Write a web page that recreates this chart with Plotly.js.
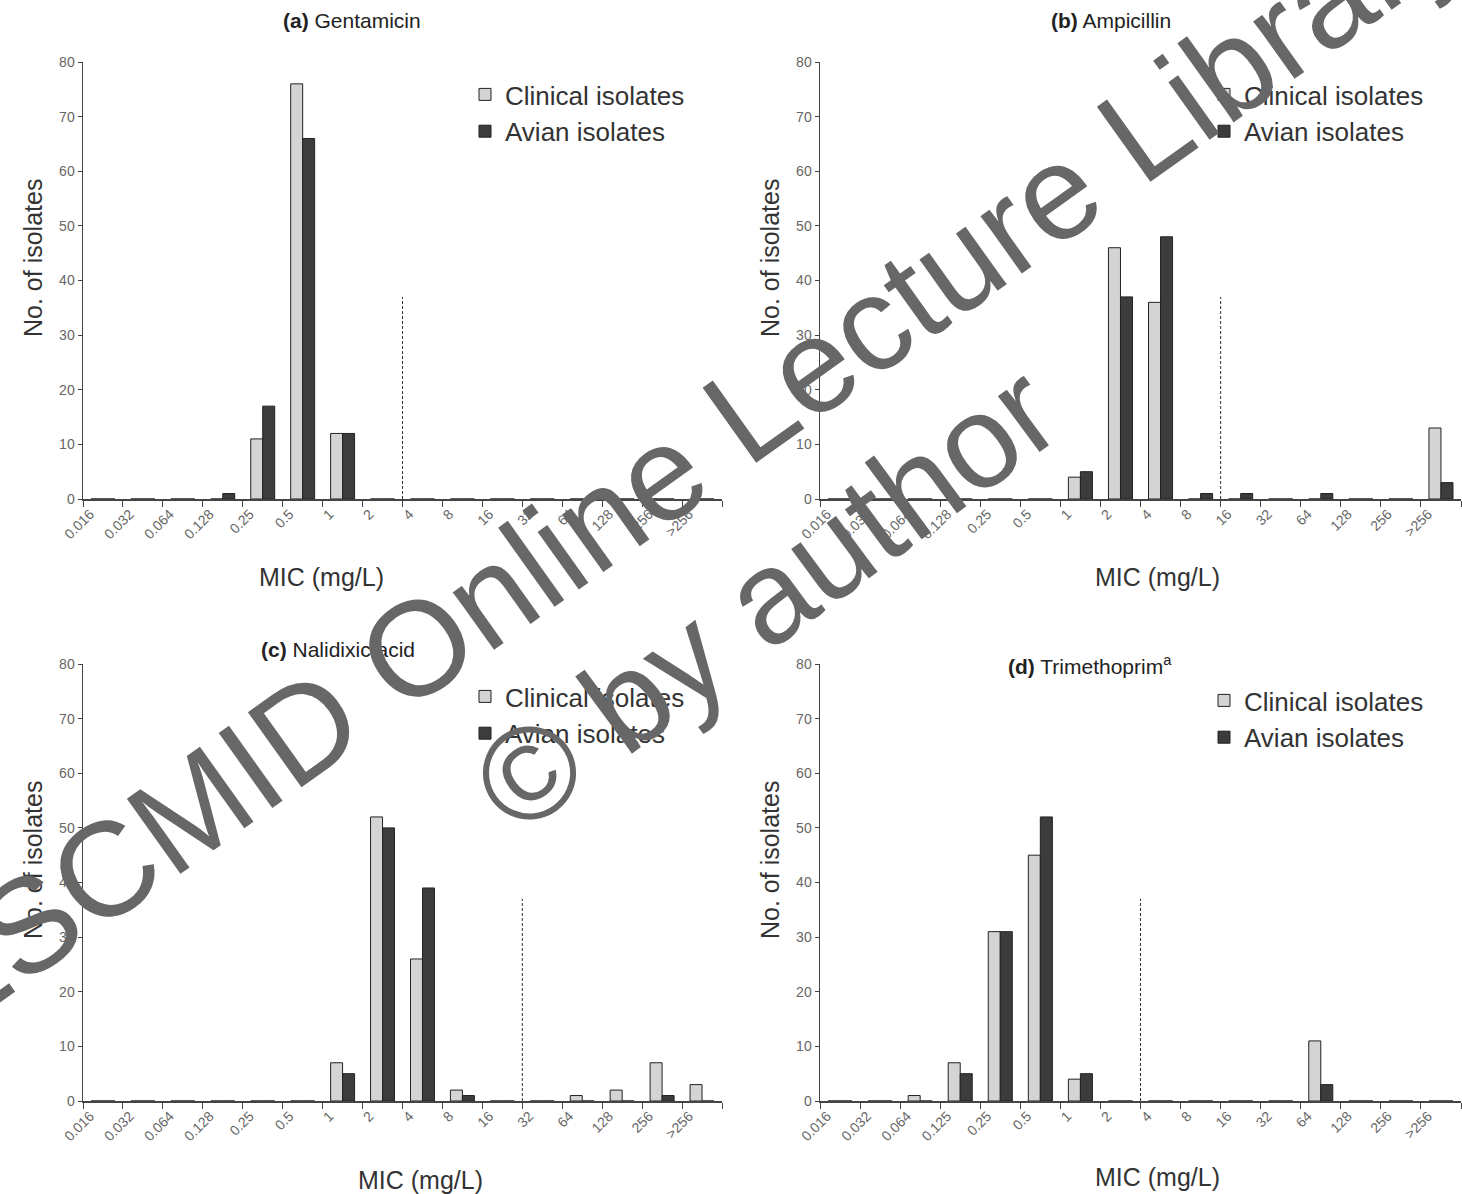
<!DOCTYPE html>
<html>
<head>
<meta charset="utf-8">
<script src="https://cdn.plot.ly/plotly-3.0.1.min.js"></script>
<style>
html,body{margin:0;padding:0;background:#fff;}
#chart{width:1462px;height:1194px;}
</style>
</head>
<body>
<div id="chart"></div>
<script>
// ---- Data ----
const micLabels = ["0.016","0.032","0.064","0.128","0.25","0.5","1","2","4","8","16","32","64","128","256",">256"];
const micLabelsTmp = ["0.016","0.032","0.064","0.125","0.25","0.5","1","2","4","8","16","32","64","128","256",">256"];

const gentamicinClinical = [0,0,0,0,11,76,12,0,0,0,0,0,0,0,0,0];
const gentamicinAvian    = [0,0,0,1,17,66,12,0,0,0,0,0,0,0,0,0];

const ampicillinClinical = [0,0,0,0,0,0,4,46,36,0,0,0,0,0,0,13];
const ampicillinAvian    = [0,0,0,0,0,0,5,37,48,1,1,0,1,0,0,3];

const nalidixicClinical  = [0,0,0,0,0,0,7,52,26,2,0,0,1,2,7,3];
const nalidixicAvian     = [0,0,0,0,0,0,5,50,39,1,0,0,0,0,1,0];

const trimethoprimClinical = [0,0,1,7,31,45,4,0,0,0,0,0,11,0,0,0];
const trimethoprimAvian    = [0,0,0,5,31,52,5,0,0,0,0,0,3,0,0,0];

// last susceptible MIC (breakpoint line drawn just after it)
const breakpointAfter = ["2","8","16","2"];
const breakpointLineTop = 37;

const panelTitles = ["<b>(a)</b> Gentamicin","<b>(b)</b> Ampicillin","<b>(c)</b> Nalidixic acid","<b>(d)</b> Trimethoprim<sup>a</sup>"];
const seriesNames = ["Clinical isolates","Avian isolates"];

// ---- Layout helpers ----
const W = 1462, H = 1194;
const px = v => v / W;
const py = v => 1 - v / H;

const panels = [
  {labels: micLabels,    clin: gentamicinClinical,   avi: gentamicinAvian,   x0: 83,  x1: 722,  yTop: 62,  yBot: 499},
  {labels: micLabels,    clin: ampicillinClinical,   avi: ampicillinAvian,   x0: 820, x1: 1461, yTop: 62,  yBot: 499},
  {labels: micLabels,    clin: nalidixicClinical,    avi: nalidixicAvian,    x0: 83,  x1: 722,  yTop: 664, yBot: 1101},
  {labels: micLabelsTmp, clin: trimethoprimClinical, avi: trimethoprimAvian, x0: 820, x1: 1461, yTop: 664, yBot: 1101}
];

const FONT = "Liberation Sans, Arial, Helvetica, sans-serif";
const traces = [];
const layout = {
  width: W, height: H,
  margin: {l:0, r:0, t:0, b:0},
  paper_bgcolor: "#fff", plot_bgcolor: "#fff",
  barmode: "group", bargap: 0.4, bargroupgap: 0,
  font: {family: FONT, color: "#333"},
  annotations: [], shapes: []
};

const legendPos = [
  {x: 465, y: 71}, {x: 1204, y: 71}, {x: 465, y: 673}, {x: 1204, y: 677}
];
const titlePos = [
  {x: 352, y: 20}, {x: 1111, y: 20}, {x: 338, y: 650}, {x: 1090, y: 665}
];
const yTitlePos = [
  {x: 33, y: 258}, {x: 770, y: 258}, {x: 33, y: 860}, {x: 770, y: 860}
];
const xTitlePos = [
  {x: 321, y: 577}, {x: 1157, y: 577}, {x: 420, y: 1180}, {x: 1157, y: 1177}
];

panels.forEach((p, i) => {
  const n = i + 1;
  const xa = n === 1 ? "x" : "x" + n;
  const ya = n === 1 ? "y" : "y" + n;
  const lg = n === 1 ? "legend" : "legend" + n;
  traces.push({
    type: "bar", x: p.labels, y: p.clin, name: seriesNames[0],
    xaxis: xa, yaxis: ya, legend: lg,
    marker: {color: "#d4d4d4", line: {color: "#222", width: 1}},
    hoverinfo: "x+y+name"
  });
  traces.push({
    type: "bar", x: p.labels, y: p.avi, name: seriesNames[1],
    xaxis: xa, yaxis: ya, legend: lg,
    marker: {color: "#3c3c3c", line: {color: "#222", width: 1}},
    hoverinfo: "x+y+name"
  });
  const xKey = n === 1 ? "xaxis" : "xaxis" + n;
  const yKey = n === 1 ? "yaxis" : "yaxis" + n;
  layout[xKey] = {
    domain: [px(p.x0), px(p.x1)], anchor: ya, type: "category",
    categoryorder: "array", categoryarray: p.labels,
    tickson: "boundaries", ticks: "outside", ticklen: 6, tickcolor: "#444", tickwidth: 1,
    showline: true, linecolor: "#444", linewidth: 1.5,
    showgrid: false, zeroline: false,
    tickangle: -45, ticklabelshift: -13,
    tickfont: {family: FONT, size: 14, color: "#666"},
    fixedrange: true
  };
  layout[yKey] = {
    domain: [py(p.yBot), py(p.yTop)], anchor: xa,
    range: [0, 80], dtick: 10, ticks: "outside", ticklen: 4, tickcolor: "#444",
    showline: true, linecolor: "#444", linewidth: 1.5,
    showgrid: false, zeroline: false,
    tickfont: {family: FONT, size: 14, color: "#666"},
    fixedrange: true
  };
  layout[lg] = {
    x: px(legendPos[i].x), y: py(legendPos[i].y), xanchor: "left", yanchor: "top",
    bgcolor: "rgba(0,0,0,0)", borderwidth: 0, traceorder: "normal",
    font: {family: FONT, size: 26, color: "#333"}
  };
  // breakpoint dashed line
  const bi = p.labels.indexOf(breakpointAfter[i]) + 0.5;
  layout.shapes.push({
    type: "line", xref: xa, yref: ya, x0: bi, x1: bi, y0: 0, y1: breakpointLineTop,
    line: {color: "#333", width: 1, dash: "3px,2px"}
  });
  layout.annotations.push({
    text: panelTitles[i], xref: "paper", yref: "paper",
    x: px(titlePos[i].x), y: py(titlePos[i].y), xanchor: "center", yanchor: "middle",
    showarrow: false, font: {family: FONT, size: 21, color: "#222"}
  });
  layout.annotations.push({
    text: "No. of isolates", xref: "paper", yref: "paper",
    x: px(yTitlePos[i].x), y: py(yTitlePos[i].y), xanchor: "center", yanchor: "middle",
    textangle: -90, showarrow: false, font: {family: FONT, size: 25, color: "#333"}
  });
  layout.annotations.push({
    text: "MIC (mg/L)", xref: "paper", yref: "paper",
    x: px(xTitlePos[i].x), y: py(xTitlePos[i].y), xanchor: "center", yanchor: "middle",
    showarrow: false, font: {family: FONT, size: 25, color: "#333"}
  });
});

// watermark
layout.annotations.push({
  text: "ESCMID Online Lecture Library", xref: "paper", yref: "paper",
  x: px(684), y: py(458), xanchor: "center", yanchor: "middle",
  textangle: -35.5, showarrow: false,
  font: {family: FONT, size: 134, color: "#676767"}
});
layout.annotations.push({
  text: "© by author", xref: "paper", yref: "paper",
  x: px(765), y: py(598), xanchor: "center", yanchor: "middle",
  textangle: -36.5, showarrow: false,
  font: {family: FONT, size: 132, color: "#676767"}
});

Plotly.newPlot("chart", traces, layout, {displayModeBar: false, staticPlot: true});
</script>
</body>
</html>
